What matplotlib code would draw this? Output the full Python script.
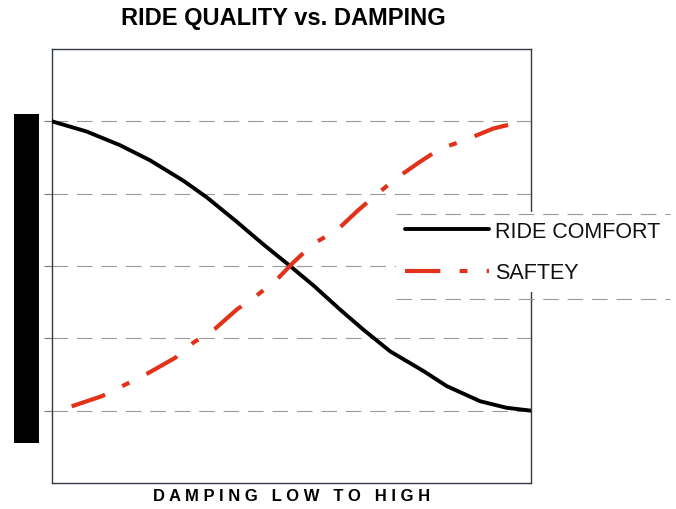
import numpy as np
import matplotlib.pyplot as plt
from matplotlib.lines import Line2D
from matplotlib.patches import Rectangle

# damping axis 0..10 (low to high), quality 0..4
comfort_x = [0.0, 0.72, 1.42, 2.05, 2.74, 3.23, 3.86, 4.41, 4.97, 5.46, 6.01,
             6.50, 7.06, 7.75, 8.24, 8.94, 9.49, 10.0]
comfort_y = [4.0, 3.86, 3.67, 3.46, 3.18, 2.95, 2.61, 2.30, 2.0, 1.73, 1.40,
             1.12, 0.82, 0.55, 0.34, 0.13, 0.04, 0.0]
safety_x = [0.41, 1.04, 1.56, 2.01, 2.57, 2.95, 3.40, 3.86, 4.27, 4.69, 5.04,
            5.46, 5.94, 6.39, 6.78, 7.16, 7.68, 8.10, 8.62, 9.21, 9.77]
safety_y = [0.06, 0.20, 0.37, 0.52, 0.73, 0.94, 1.13, 1.40, 1.59, 1.81, 2.05,
            2.31, 2.49, 2.77, 2.99, 3.20, 3.44, 3.62, 3.74, 3.90, 3.99]
grid_levels = [0, 1, 2, 3, 4]

plt.rcParams['font.family'] = ['Liberation Sans', 'DejaVu Sans']

fig = plt.figure(figsize=(6.76, 5.10), dpi=100)
ax = fig.add_axes([52/676, 26/510, 479/676, 434/510])

ax.plot(comfort_x, comfort_y, color='black', lw=2.8, label='RIDE COMFORT',
        solid_capstyle='round', solid_joinstyle='round', zorder=3)
ax.plot(safety_x, safety_y, color='#e2321a', lw=3, label='SAFTEY',
        dashes=(8.5, 4.6, 1.9, 4.6), dash_capstyle='butt', zorder=3)

ax.set_xlim(0, 10)
ax.set_ylim(-1, 5)
ax.set_xticks([])
ax.set_yticks(grid_levels)
ax.set_yticklabels([])
ax.tick_params(axis='y', direction='out', length=6, color='#777777', width=0.8)
ax.yaxis.grid(True, color='#9a9a9a', lw=0.8, dashes=(14, 8))
ax.set_axisbelow(True)
for s in ax.spines.values():
    s.set_color('#333a44')
    s.set_linewidth(1.0)

fig.text(283/676, 1 - 19/510, 'RIDE QUALITY vs. DAMPING', ha='center', va='center',
         fontsize=17, fontweight='bold')
fig.text(292/676, 1 - 497/510, 'D A M P I N G   L O W   T O   H I G H', ha='center',
         va='center', fontsize=12, fontweight='bold')

# black bar on the left
fig.add_artist(Rectangle((14/676, 66/510), 25/676, 329/510, transform=fig.transFigure,
                         facecolor='black', edgecolor='none'))

leg = ax.legend(loc='center left', bbox_to_anchor=(396/676, 1 - 253/510),
                bbox_transform=fig.transFigure, fontsize=15.5, handlelength=3.9,
                handletextpad=0.3, labelspacing=0.95, borderaxespad=0,
                frameon=True, fancybox=False, edgecolor='none', facecolor='white',
                framealpha=1)
leg.set_zorder(10)
for txt in leg.get_texts():
    txt.set_color('#111111')

for yy in (215, 300):
    fig.add_artist(Line2D([396/676, 670/676], [1 - yy/510, 1 - yy/510],
                          transform=fig.transFigure, color='#9a9a9a', lw=0.8,
                          dashes=(14, 8), zorder=11))

fig.savefig('out.png', dpi=100)
